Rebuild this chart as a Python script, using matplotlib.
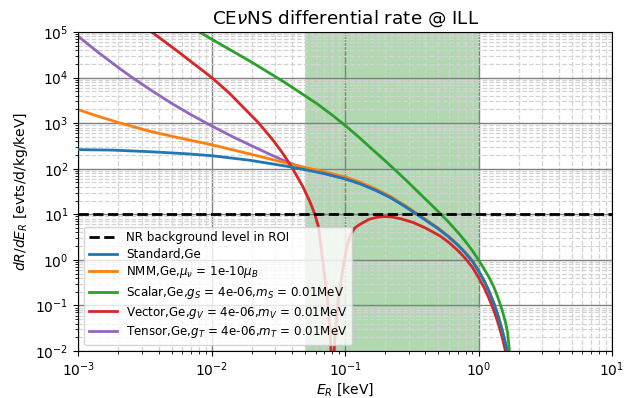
import matplotlib
matplotlib.use("Agg")
import matplotlib.pyplot as plt

# ---------------- data ----------------
title = r"CE$\nu$NS differential rate @ ILL"
xlabel = r"$E_R$ [keV]"
ylabel = r"$dR/dE_R$ [evts/d/kg/keV]"

bkg_level = 10.0
roi = (0.05, 1.0)

lab_bkg = "NR background level in ROI"
lab_std = "Standard,Ge"
lab_nmm = r"NMM,Ge,$\mu_\nu$ = 1e-10$\mu_B$"
lab_s = r"Scalar,Ge,$g_S$ = 4e-06,$m_S$ = 0.01MeV"
lab_v = r"Vector,Ge,$g_V$ = 4e-06,$m_V$ = 0.01MeV"
lab_t = r"Tensor,Ge,$g_T$ = 4e-06,$m_T$ = 0.01MeV"

# Standard
E_std = [1e-3, 1.8e-3, 3.45e-3, 6.6e-3, 1e-2, 0.0194, 0.0386, 0.0687, 0.1,
         0.13, 0.17, 0.22, 0.28, 0.345, 0.42, 0.5, 0.6, 0.7, 0.8, 0.9, 1.0,
         1.1, 1.2, 1.3, 1.4, 1.5, 1.6, 1.65, 1.7, 1.75]
R_std = [262, 256, 236, 212, 193, 153, 110, 79, 60,
         46.5, 33.5, 23, 15, 10, 6.8, 4.8, 3.15, 2.1, 1.4, 0.93, 0.57,
         0.344, 0.2, 0.111, 0.059, 0.029, 0.0135, 0.0088, 0.004, 0.0012]

# NMM
E_nmm = [1e-3, 1.4e-3, 2.05e-3, 3.45e-3, 5.6e-3, 1e-2, 0.0194, 0.0386, 0.069,
         0.1, 0.13, 0.17, 0.22, 0.28, 0.345, 0.42, 0.5, 0.6, 0.7, 0.8, 0.9,
         1.0, 1.1, 1.2, 1.3, 1.4, 1.5, 1.6, 1.65, 1.7, 1.75]
R_nmm = [1970, 1420, 1010, 660, 480, 335, 210, 127, 86,
         66, 50.7, 35.8, 24.4, 15.8, 10.45, 7.05, 4.96, 3.25, 2.16, 1.44, 0.955,
         0.585, 0.353, 0.205, 0.114, 0.0605, 0.0298, 0.0139, 0.009, 0.0041, 0.0012]

# Scalar
E_s = [0.006, 0.00807, 0.012, 0.0194, 0.0344, 0.0459, 0.0612, 0.08, 0.1,
       0.129, 0.16, 0.2, 0.25, 0.3, 0.36, 0.43, 0.514, 0.6, 0.7, 0.8, 0.9,
       1.0, 1.1, 1.2, 1.3, 1.4, 1.5, 1.6, 1.65, 1.7, 1.75, 1.8]
R_s = [1.6e5, 1e5, 5.1e4, 2.28e4, 8.2e3, 4.7e3, 2.7e3, 1.5e3, 890,
       470, 265, 148, 81, 49, 29, 17.5, 10.5, 6.6, 4.0, 2.5, 1.58,
       1.0, 0.63, 0.41, 0.255, 0.145, 0.08, 0.04, 0.025, 0.0105, 0.003, 0.0008]

# Vector
E_v = [3.0e-3, 3.55e-3, 5.6e-3, 1e-2, 0.0135, 0.0177, 0.0222, 0.029, 0.0345,
       0.040, 0.0486, 0.0546, 0.0588, 0.063, 0.0665, 0.0687, 0.0736, 0.0771,
       0.0795, 0.0803, 0.081, 0.0844, 0.0889, 0.097, 0.103, 0.109, 0.118,
       0.129, 0.15, 0.17, 0.193, 0.22, 0.26, 0.324, 0.40, 0.514, 0.6, 0.7,
       0.8, 0.9, 1.0, 1.1, 1.2, 1.3, 1.4, 1.5, 1.6, 1.65, 1.7]
R_v = [1.42e5, 1e5, 3.7e4, 1e4, 4.6e3, 2.05e3, 1.05e3, 413, 206,
       106, 38.5, 18.5, 10.6, 5.4, 1.6, 0.74, 0.138, 0.026,
       0.004, 1e-5, 0.004, 0.026, 0.138, 0.74, 1.9, 3.4, 5.0,
       6.0, 7.7, 8.5, 8.9, 8.8, 8.0, 6.6, 5.0, 3.35, 2.4, 1.6,
       1.06, 0.68, 0.41, 0.245, 0.14, 0.078, 0.041, 0.0205, 0.0092, 0.0058, 0.0025]

# Tensor
E_t = [1e-3, 1.4e-3, 2e-3, 2.5e-3, 3.5e-3, 5e-3, 7e-3, 1e-2, 0.0145, 0.0194,
       0.027, 0.0344, 0.045, 0.0687, 0.1, 0.13, 0.17, 0.22, 0.28, 0.345,
       0.42, 0.5, 0.6, 0.7, 0.8, 0.9, 1.0, 1.1, 1.2, 1.3, 1.4, 1.5, 1.6,
       1.65, 1.7, 1.75]
R_t = [8.0e4, 3.63e4, 1.65e4, 1.03e4, 5.3e3, 2.72e3, 1.53e3, 866, 496, 330,
       210, 153, 112, 79, 60, 46.5, 33.5, 23, 15, 10,
       6.8, 4.8, 3.15, 2.1, 1.4, 0.93, 0.57, 0.344, 0.2, 0.111, 0.059, 0.029,
       0.0135, 0.0088, 0.004, 0.0012]

# ---------------- plot ----------------
fig = plt.figure(figsize=(6.25, 3.98), dpi=100)
ax = fig.add_axes([0.1253, 0.1181, 0.9792 - 0.1253, 0.9196 - 0.1181])

ax.set_xscale("log")
ax.set_yscale("log")
ax.set_xlim(1e-3, 10)
ax.set_ylim(1e-2, 1e5)

ax.axvspan(roi[0], roi[1], color="g", alpha=0.3, lw=0, zorder=0.5)

ax.grid(which="major", color="gray", ls="-", lw=1.0, zorder=0)
ax.grid(which="minor", color="lightgray", ls="--", lw=0.9, zorder=0)
ax.set_axisbelow(True)

hb, = ax.plot([1e-3, 10], [bkg_level, bkg_level], "k--", lw=2, label=lab_bkg, zorder=4)
ht, = ax.plot(E_t, R_t, color="tab:purple", lw=2, label=lab_t, zorder=2)
hs, = ax.plot(E_s, R_s, color="tab:green", lw=2, label=lab_s, zorder=2.2)
hn, = ax.plot(E_nmm, R_nmm, color="tab:orange", lw=2, label=lab_nmm, zorder=2.4)
hv, = ax.plot(E_v, R_v, color="tab:red", lw=2, label=lab_v, zorder=2.5)
hst, = ax.plot(E_std, R_std, color="tab:blue", lw=2, label=lab_std, zorder=2.6)

ax.legend(handles=[hb, hst, hn, hs, hv, ht], loc="lower left", fontsize=8.6,
          handlelength=2.3, labelspacing=0.3)

ax.set_title(title, fontsize=13.2)
ax.set_xlabel(xlabel, fontsize=10, labelpad=1)
ax.set_ylabel(ylabel, fontsize=10)
ax.tick_params(labelsize=10)

fig.savefig("out.png", dpi=100)
